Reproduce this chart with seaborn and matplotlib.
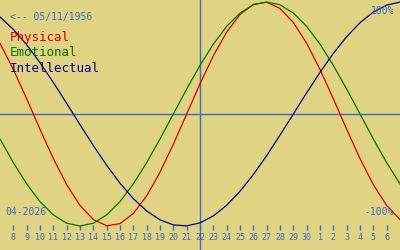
import matplotlib
matplotlib.use("Agg")
import matplotlib.pyplot as plt
import seaborn as sns
import pandas as pd

# Days shown (April 2026 continuing into May: day 31 = May 1)
days = list(range(7, 38))
physical = [0.631, 0.398, 0.136, -0.136, -0.398, -0.631, -0.817, -0.942, -0.998, -0.979,
            -0.888, -0.731, -0.520, -0.270, 0.0, 0.270, 0.520, 0.731, 0.888, 0.979,
            0.998, 0.942, 0.817, 0.631, 0.398, 0.136, -0.136, -0.398, -0.631, -0.817, -0.942]
emotional = [-0.223, -0.434, -0.624, -0.782, -0.901, -0.975, -1.0, -0.975, -0.901, -0.782,
             -0.624, -0.434, -0.223, 0.0, 0.223, 0.434, 0.624, 0.782, 0.901, 0.975,
             1.0, 0.975, 0.901, 0.782, 0.624, 0.434, 0.223, 0.0, -0.223, -0.434, -0.624]
intellectual = [0.866, 0.756, 0.618, 0.458, 0.282, 0.095, -0.095, -0.282, -0.458, -0.618,
                -0.756, -0.866, -0.945, -0.990, -0.999, -0.972, -0.910, -0.815, -0.690, -0.541,
                -0.372, -0.189, 0.0, 0.189, 0.372, 0.541, 0.690, 0.815, 0.910, 0.972, 0.999]
tick_days = list(range(8, 37))
tick_labels = [str(d) for d in range(8, 31)] + [str(d) for d in range(1, 7)]
today = 22
series_names = ["Physical", "Emotional", "Intellectual"]
series_colors = ["#dd0000", "#007700", "#000080"]
birth_label = "<-- 05/11/1956"
month_label = "04-2026"

bg = "#E0D383"
blue = "#3a6cc4"

df = pd.DataFrame({"day": days * 3,
                   "value": physical + emotional + intellectual,
                   "series": sum([[n] * len(days) for n in series_names], [])})

fig = plt.figure(figsize=(4, 2.5), dpi=100)
fig.patch.set_facecolor(bg)
ax = fig.add_axes([0, 0, 1, 1])
ax.set_facecolor(bg)

sns.lineplot(data=df, x="day", y="value", hue="series", hue_order=series_names,
             palette=series_colors, linewidth=0.9, legend=False, ax=ax)

ax.set_xlim(7, 37)
ax.set_ylim(-1 - 24 / 112, 1 + 2 / 112)

ax.axhline(0, color=blue, linewidth=1.0, zorder=1)
ax.axvline(today, color=blue, linewidth=1.0, zorder=1)

for s in ax.spines.values():
    s.set_visible(False)
ax.spines["bottom"].set_position(("axes", 0.1))
ax.set_xticks(tick_days)
ax.set_xticklabels(tick_labels, fontsize=6, family="DejaVu Sans Mono", color=blue)
ax.tick_params(axis="x", direction="out", length=3.6, width=1, color=blue, pad=2)
ax.set_yticks([])
ax.set_xlabel("")
ax.set_ylabel("")

mono = "DejaVu Sans Mono"
fig.text(10 / 400, 1 - 17 / 250, birth_label, fontsize=7, family=mono, color=blue, va="center")
for i, (n, c) in enumerate(zip(series_names, series_colors)):
    fig.text(10 / 400, 1 - (38 + 15 * i) / 250, n, fontsize=9, family=mono, color=c, va="center")
fig.text(5 / 400, 1 - 212 / 250, month_label, fontsize=7, family=mono, color=blue, va="center")
fig.text(394 / 400, 1 - 11 / 250, "100%", fontsize=7, family=mono, color=blue, va="center", ha="right")
fig.text(394 / 400, 1 - 212 / 250, "-100%", fontsize=7, family=mono, color=blue, va="center", ha="right")

fig.savefig("out.png", dpi=100, facecolor=bg)
